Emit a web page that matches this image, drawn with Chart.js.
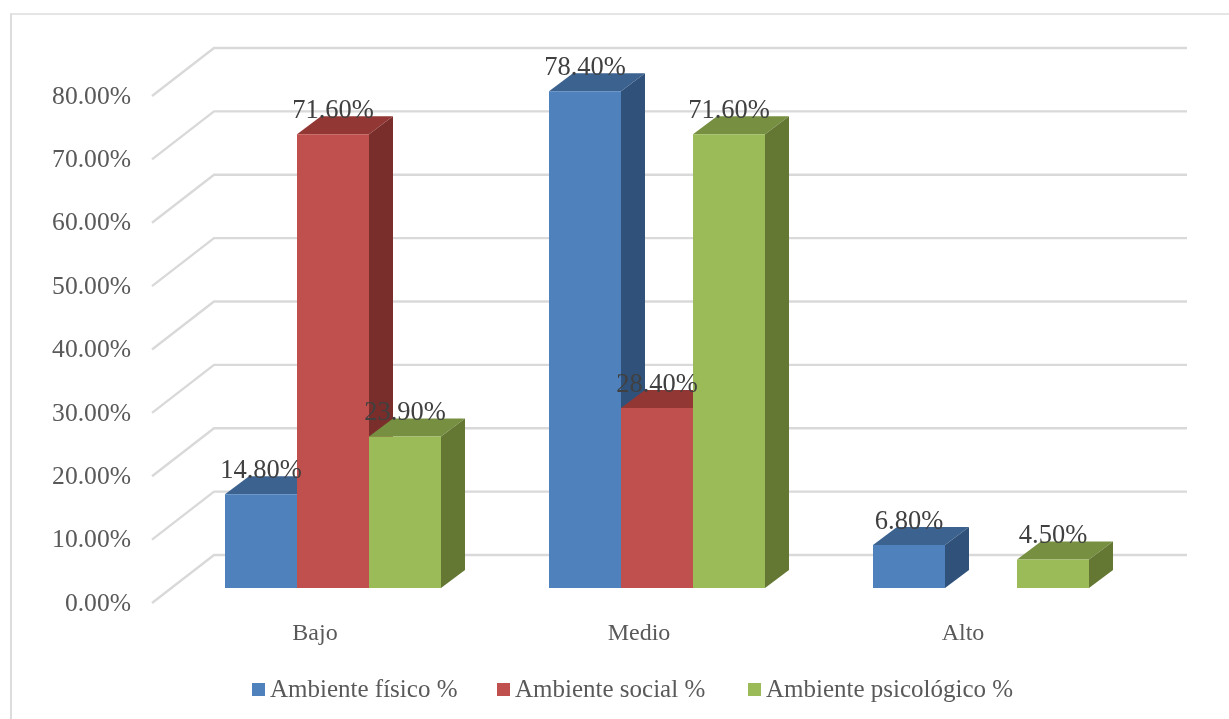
<!DOCTYPE html>
<html lang="es">
<head>
<meta charset="utf-8">
<title>Ambiente</title>
<script src="https://cdn.jsdelivr.net/npm/chart.js@4"></script>
<style>
  html, body { margin: 0; padding: 0; background: #fff; overflow: hidden; }
  #wrap { position: relative; width: 1229px; height: 719px; }
</style>
</head>
<body>
<div id="wrap"><canvas id="ambienteChart" width="1229" height="719"></canvas></div>
<script>
const categories = ["Bajo", "Medio", "Alto"];
const fisico = [14.8, 78.4, 6.8];
const social = [71.6, 28.4, null];
const psicologico = [23.9, 71.6, 4.5];
const seriesNames = ["Ambiente físico %", "Ambiente social %", "Ambiente psicológico %"];

const FONT = '"Liberation Serif", serif';

// front, top and side shades of each bar colour
const shades = [
  { front: "#4f81bd", top: "#3c6390", side: "#30527a" },
  { front: "#c0504d", top: "#933735", side: "#7a2e2c" },
  { front: "#9bbb59", top: "#768f41", side: "#647833" },
];

// bars sit on a plane inside the floor: the wall is further back, the axis further forward
const barDepth = { dx: 24, dy: -18 };
const wallBack = { dx: 43, dy: -33 };
const wallFront = { dx: -19, dy: 15 };

function face(ctx, pts, color) {
  ctx.fillStyle = color;
  ctx.beginPath();
  pts.forEach((p, i) => (i ? ctx.lineTo(p[0], p[1]) : ctx.moveTo(p[0], p[1])));
  ctx.closePath();
  ctx.fill();
}

const bars3d = {
  id: "bars3d",
  beforeDraw(chart) {
    // outer frame, open on the right and the bottom
    const ctx = chart.ctx;
    ctx.save();
    ctx.strokeStyle = "#dcdcdc";
    ctx.lineWidth = 2;
    ctx.beginPath();
    ctx.moveTo(11, 719);
    ctx.lineTo(11, 14);
    ctx.stroke();
    ctx.lineWidth = 1.5;
    ctx.beginPath();
    ctx.moveTo(10, 14);
    ctx.lineTo(1229, 14);
    ctx.stroke();
    ctx.restore();
  },
  beforeDatasetsDraw(chart) {
    const { ctx, chartArea, scales } = chart;
    ctx.save();

    // gridlines run along the back wall and fold forward down the side wall
    ctx.strokeStyle = "#d9d9d9";
    ctx.lineWidth = 2.4;
    ctx.lineJoin = "round";
    scales.y.ticks.forEach((t) => {
      const y = scales.y.getPixelForValue(t.value);
      ctx.beginPath();
      ctx.moveTo(chartArea.left + wallFront.dx, y + wallFront.dy);
      ctx.lineTo(chartArea.left + wallBack.dx, y + wallBack.dy);
      ctx.lineTo(chartArea.right + wallBack.dx + 1, y + wallBack.dy);
      ctx.stroke();
    });

    // each series paints over the sides of the one before it
    chart.data.datasets.forEach((ds, i) => {
      const meta = chart.getDatasetMeta(i);
      meta.data.forEach((bar, j) => {
        if (ds.data[j] === null) return;
        const left = bar.x - bar.width / 2;
        const right = bar.x + bar.width / 2;
        const { dx, dy } = barDepth;
        face(ctx, [[left, bar.y], [left + dx, bar.y + dy], [right + dx, bar.y + dy], [right, bar.y]], shades[i].top);
        face(ctx, [[right, bar.y], [right + dx, bar.y + dy], [right + dx, bar.base + dy], [right, bar.base]], shades[i].side);
      });
      meta.controller.draw();
    });
    ctx.restore();
    return false;
  },
  afterDraw(chart) {
    const ctx = chart.ctx;
    ctx.save();

    // value labels
    ctx.font = "26.5px " + FONT;
    ctx.fillStyle = "#404040";
    ctx.textAlign = "center";
    ctx.textBaseline = "middle";
    chart.data.datasets.forEach((ds, i) => {
      chart.getDatasetMeta(i).data.forEach((bar, j) => {
        if (ds.data[j] === null) return;
        ctx.fillText(ds.data[j].toFixed(2) + "%", bar.x, bar.y - 23);
      });
    });

    // legend
    const swatchX = [252, 497, 748];
    ctx.font = "25px " + FONT;
    ctx.textAlign = "left";
    seriesNames.forEach((name, i) => {
      ctx.fillStyle = shades[i].front;
      ctx.fillRect(swatchX[i], 683, 13, 13);
      ctx.fillStyle = "#595959";
      ctx.fillText(name, swatchX[i] + 18, 690);
    });
    ctx.restore();
  },
};

new Chart(document.getElementById("ambienteChart"), {
  type: "bar",
  data: {
    labels: categories,
    datasets: [fisico, social, psicologico].map((values, i) => ({
      label: seriesNames[i],
      data: values,
      backgroundColor: shades[i].front,
      categoryPercentage: 2 / 3,
      barPercentage: 1,
    })),
  },
  options: {
    responsive: false,
    animation: false,
    layout: { padding: { top: 81, right: 86, left: 0, bottom: 0 } },
    plugins: { legend: { display: false }, tooltip: { enabled: false } },
    scales: {
      x: {
        grid: { display: false, drawTicks: false },
        border: { display: false },
        afterFit: (scale) => { scale.height = 131; },
        ticks: {
          color: "#595959",
          font: { family: FONT, size: 24 },
          padding: 31,
          labelOffset: -18,
          maxRotation: 0,
        },
      },
      y: {
        min: 0,
        max: 80,
        grid: { display: false, drawTicks: false },
        border: { display: false },
        afterFit: (scale) => { scale.width = 171; },
        ticks: {
          stepSize: 10,
          color: "#595959",
          font: { family: FONT, size: 25.6 },
          padding: 40,
          labelOffset: 16,
          callback: (value) => value.toFixed(2) + "%",
        },
      },
    },
  },
  plugins: [bars3d],
});
</script>
</body>
</html>
